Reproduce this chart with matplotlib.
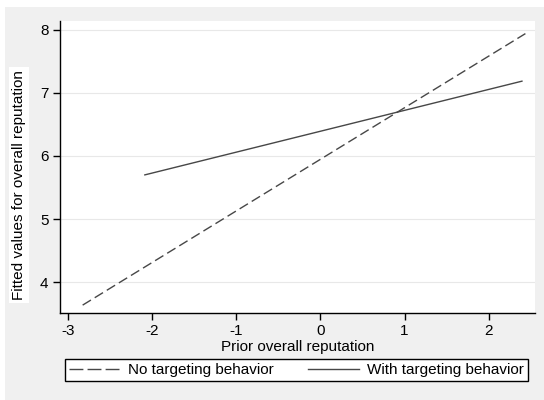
import matplotlib
matplotlib.use("Agg")
import matplotlib.pyplot as plt
from matplotlib.patches import Rectangle
from matplotlib.lines import Line2D

# fitted line endpoints
x_no = [-2.825, 2.436]
y_no = [3.635, 7.94]
x_with = [-2.086, 2.395]
y_with = [5.70, 7.186]

xticks = [-3, -2, -1, 0, 1, 2]
yticks = [4, 5, 6, 7, 8]
labels = ['No targeting behavior', 'With targeting behavior']

plt.rcParams['font.family'] = ['Liberation Sans', 'DejaVu Sans']

fig = plt.figure(figsize=(5.44, 4), dpi=100)
fig.patch.set_facecolor('white')
# gray graph region (Stata style)
fig.patches.append(Rectangle((5 / 544, 0), 1, 393 / 400, transform=fig.transFigure,
                             facecolor='#f0f0f0', edgecolor='none', zorder=-10))

ax = fig.add_axes([59.5 / 544, 1 - 313 / 400, (535 - 59.5) / 544, (313 - 21) / 400])
ax.set_facecolor('white')
line_color = '#474747'
ax.plot(x_no, y_no, color=line_color, lw=1.0, dashes=(7, 3.2))
ax.plot(x_with, y_with, color=line_color, lw=1.0)

ax.set_xlim(-3.1, 2.55)
ax.set_ylim(3.51, 8.14)
ax.set_xticks(xticks)
ax.set_yticks(yticks)
ax.set_xticklabels([str(t) for t in xticks])
ax.set_yticklabels([str(t) for t in yticks])
ax.grid(axis='y', color='#e8e8e8', lw=0.8)
ax.set_axisbelow(True)
for s in ['top', 'right']:
    ax.spines[s].set_visible(False)
for s in ['left', 'bottom']:
    ax.spines[s].set_color('black')
    ax.spines[s].set_linewidth(1.0)
ax.tick_params(direction='out', length=5, width=1, labelsize=11, colors='black', pad=3)

ax.set_xlabel('Prior overall reputation', fontsize=11, labelpad=1)
fig.text(19 / 544, 1 - 185 / 400, 'Fitted values for overall reputation', rotation=90,
         ha='center', va='center', fontsize=11,
         bbox=dict(facecolor='white', edgecolor='none', pad=2))

handles = [Line2D([], [], color=line_color, lw=1.0, dashes=(10, 3)),
           Line2D([], [], color=line_color, lw=1.0)]
leg = fig.legend(handles=handles, labels=labels, loc='center', ncol=2, mode='expand',
                 bbox_to_anchor=(65 / 544, 1 - 383 / 400, (528 - 65) / 544, 26 / 400),
                 fancybox=False, edgecolor='black', framealpha=1, fontsize=11,
                 handlelength=3.3, handletextpad=0.55, borderaxespad=0, borderpad=0.25)
leg.get_frame().set_linewidth(1.0)

fig.savefig('out.png', dpi=100)
